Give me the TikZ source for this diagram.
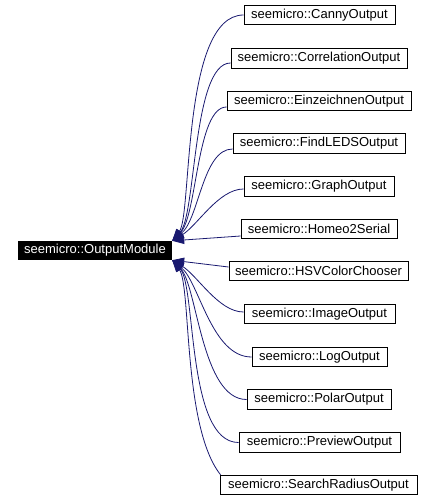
\documentclass[tikz,border=0pt]{standalone}
\usepackage{fontspec}
\setmainfont{Liberation Sans}
\usepackage{tikz}
\usetikzlibrary{arrows.meta,positioning}
\usepackage{xcolor}
\definecolor{dxnavy}{RGB}{25,25,112}
\tikzstyle{cls} = [draw=black, line width=0.9pt, inner sep=0pt, minimum height=19.5pt, font=\fontsize{13}{14}\selectfont]
\tikzstyle{base} = [fill=black, text=white, inner sep=0pt, minimum height=19pt, minimum width=154pt, font=\fontsize{13}{14}\selectfont]
\tikzstyle{inherit} = [line width=0.8pt, ->, >={Triangle[length=12pt,width=8pt]}, color=dxnavy]

\begin{document}
\begin{tikzpicture}[x=1pt, y=-1pt]
\useasboundingbox (0,0) rectangle (433,500);
% Base class
\node[base] (outmod) at (95,250.5) {seemicro::OutputModule};

% Derived classes
\node[cls, minimum width=151pt] (canny) at (319.5,15) {seemicro::CannyOutput};
\node[cls, minimum width=176pt] (correlation) at (319,58.5) {seemicro::CorrelationOutput};
\node[cls, minimum width=184pt] (einzeichnen) at (319,101) {seemicro::EinzeichnenOutput};
\node[cls, minimum width=172pt] (findleds) at (319,143.5) {seemicro::FindLEDSOutput};
\node[cls, minimum width=150pt] (graph) at (319,186.5) {seemicro::GraphOutput};
\node[cls, minimum width=156pt] (homeo) at (319,229) {seemicro::Homeo2Serial};
\node[cls, minimum width=179pt] (hsv) at (318.5,271) {seemicro::HSVColorChooser};
\node[cls, minimum width=151pt] (image) at (319.5,314) {seemicro::ImageOutput};
\node[cls, minimum width=135pt] (log) at (319.5,357) {seemicro::LogOutput};
\node[cls, minimum width=144pt] (polar) at (319,399.5) {seemicro::PolarOutput};
\node[cls, minimum width=161pt] (preview) at (319.5,442.5) {seemicro::PreviewOutput};
\node[cls, minimum width=197pt] (search) at (318.5,485) {seemicro::SearchRadiusOutput};

% Upper edges
\draw[inherit] (canny.west) .. controls +(-62,0) and +(20,-26) .. (outmod.north east);
\draw[inherit] ([yshift=-4.5pt]correlation.west) .. controls +(-38,0) and +(24,-26) .. (outmod.north east);
\draw[inherit] ([yshift=-6pt]einzeichnen.west) .. controls +(-30,0) and +(25,-25) .. (outmod.north east);
\draw[inherit] ([yshift=-5.5pt]findleds.west) .. controls +(-30,0) and +(27,-22) .. (outmod.north east);
\draw[inherit] ([yshift=-2.5pt]graph.west) .. controls +(-25,0) and +(25,-15) .. (outmod.north east);
\draw[inherit] ([yshift=-7pt]homeo.west) -- (outmod.north east);

% Lower edges
\draw[inherit] ([yshift=4pt]hsv.west) -- (outmod.south east);
\draw[inherit] ([yshift=2pt]image.west) .. controls +(-25,0) and +(25,15) .. (outmod.south east);
\draw[inherit] (log.west) .. controls +(-40,0) and +(27,22) .. (outmod.south east);
\draw[inherit] (polar.west) .. controls +(-45,0) and +(25,25) .. (outmod.south east);
\draw[inherit] (preview.west) .. controls +(-52,0) and +(24,26) .. (outmod.south east);
\draw[inherit] ([xshift=1pt]search.north west) .. controls +(-38,-48) and +(19,25) .. (outmod.south east);
\end{tikzpicture}
\end{document}
